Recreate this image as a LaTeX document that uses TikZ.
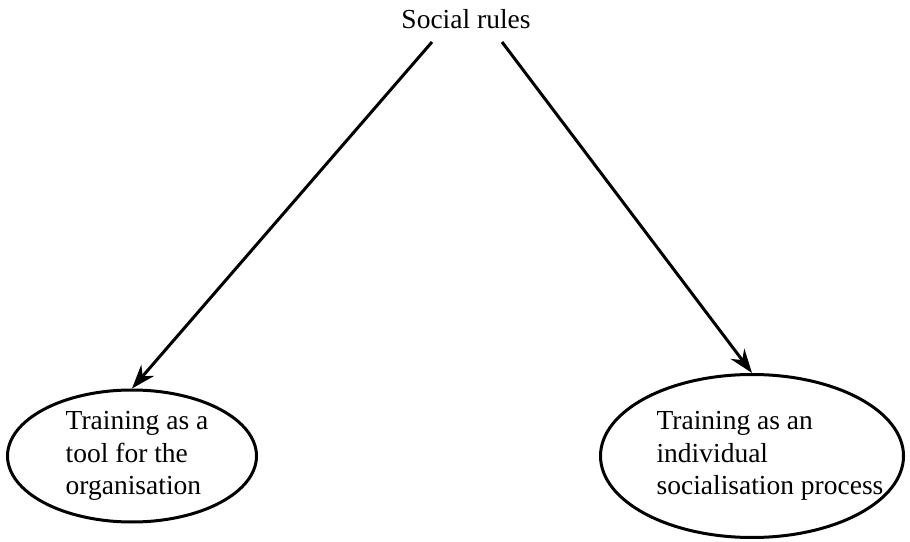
\documentclass[tikz,border=0pt]{standalone}
\usepackage{fontspec}
\setmainfont{Liberation Serif}
\usetikzlibrary{arrows.meta,shapes.geometric}

\begin{document}
\begin{tikzpicture}
[x=1pt,y=1pt,
 txt/.style={font=\fontsize{27.5}{32.5}\selectfont,align=left,inner sep=0pt},
 oval/.style={ellipse,draw,line width=3pt,inner sep=0pt},
 arr/.style={line width=3pt,-{Stealth[length=24pt,width=17pt]}}]
\useasboundingbox (0,0) rectangle (910,541);
\node[txt,anchor=base] (rules) at (466,512) {Social rules};
\node[oval,minimum width=249pt,minimum height=132pt,
  label={[txt,xshift=5pt]center:{Training as a\\tool for the\\organisation}}] (tool) at (132,85) {};
\node[oval,minimum width=303pt,minimum height=163pt,
  label={[txt,xshift=18pt]center:{Training as an\\individual\\socialisation process}}] (socproc) at (752,85) {};
\path[arr] ([xshift=-34pt,yshift=-13pt]rules.base) edge (tool.north)
  ([xshift=36pt,yshift=-13pt]rules.base) edge (socproc.north);
\end{tikzpicture}
\end{document}
